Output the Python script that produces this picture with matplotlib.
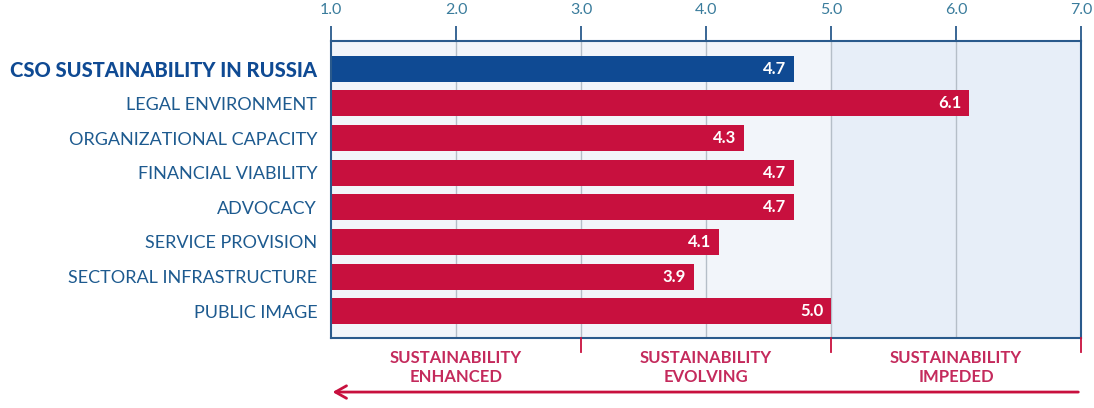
import numpy as np
import matplotlib.pyplot as plt

categories = ['CSO SUSTAINABILITY IN RUSSIA', 'LEGAL ENVIRONMENT', 'ORGANIZATIONAL CAPACITY',
              'FINANCIAL VIABILITY', 'ADVOCACY', 'SERVICE PROVISION',
              'SECTORAL INFRASTRUCTURE', 'PUBLIC IMAGE']
scores = [4.7, 6.1, 4.3, 4.7, 4.7, 4.1, 3.9, 5.0]
xticks = [1, 2, 3, 4, 5, 6, 7]
xlabels = ['1.0', '2.0', '3.0', '4.0', '5.0', '6.0', '7.0']
zones = ['SUSTAINABILITY\nENHANCED', 'SUSTAINABILITY\nEVOLVING', 'SUSTAINABILITY\nIMPEDED']
zone_edges = [1, 3, 5, 7]

navy = '#0f4a93'
crimson = '#c8103e'
label_col = '#1d5a8f'
tick_col = '#3a7c9c'
zone_col = '#c42a5c'
edge_col = '#2a5a8c'

plt.rcParams['font.family'] = ['Lato', 'DejaVu Sans']

fig = plt.figure(figsize=(10.94, 4.08), dpi=100)
ax = fig.add_axes([0.3026, 0.1716, 0.6856, 0.7279])

ax.set_xlim(1, 7)
ax.set_ylim(7.77, -0.8)

# background shading
ax.axvspan(1, 5, color='#f2f5fa', zorder=0)
ax.axvspan(5, 7, color='#e7eef8', zorder=0)
for x in xticks[1:-1]:
    ax.axvline(x, color='#b5bec8', linewidth=1, zorder=1)

y = np.arange(len(categories))
colors = [navy] + [crimson] * (len(categories) - 1)
ax.barh(y, [s - 1 for s in scores], left=1, height=0.75, color=colors, zorder=2)

for i, s in enumerate(scores):
    ax.text(s - 0.06, i, '%.1f' % s, ha='right', va='center', color='white',
            fontsize=12, fontweight='bold', zorder=3)

ax.set_yticks(y)
ax.set_yticklabels(categories)
ax.tick_params(axis='y', length=0, pad=10)
for i, lab in enumerate(ax.get_yticklabels()):
    if i == 0:
        lab.set_fontweight('black')
        lab.set_fontsize(14.5)
        lab.set_color(navy)
    else:
        lab.set_fontsize(13)
        lab.set_color(label_col)

ax.xaxis.tick_top()
ax.set_xticks(xticks)
ax.set_xticklabels(xlabels, fontsize=11.5, color=tick_col)
ax.tick_params(axis='x', length=11, width=1.3, color=edge_col, pad=6)

for sp in ax.spines.values():
    sp.set_color(edge_col)
    sp.set_linewidth(1.5)

# bottom zone ticks, labels and arrow
for x in zone_edges[1:]:
    ax.plot([x, x], [7.77, 8.17], color=crimson, linewidth=1.3, clip_on=False, zorder=4)
for k, z in enumerate(zones):
    xc = (zone_edges[k] + zone_edges[k + 1]) / 2
    ax.text(xc, 8.62, z, ha='center', va='center', color=zone_col, fontsize=12,
            fontweight='bold', linespacing=1.25, clip_on=False)
ax.annotate('', xy=(0.99, 9.33), xytext=(7, 9.33), annotation_clip=False,
            arrowprops=dict(arrowstyle='->,head_length=0.8,head_width=0.45',
                            color=crimson, linewidth=2))

fig.savefig('out.png', dpi=100, facecolor='white')
